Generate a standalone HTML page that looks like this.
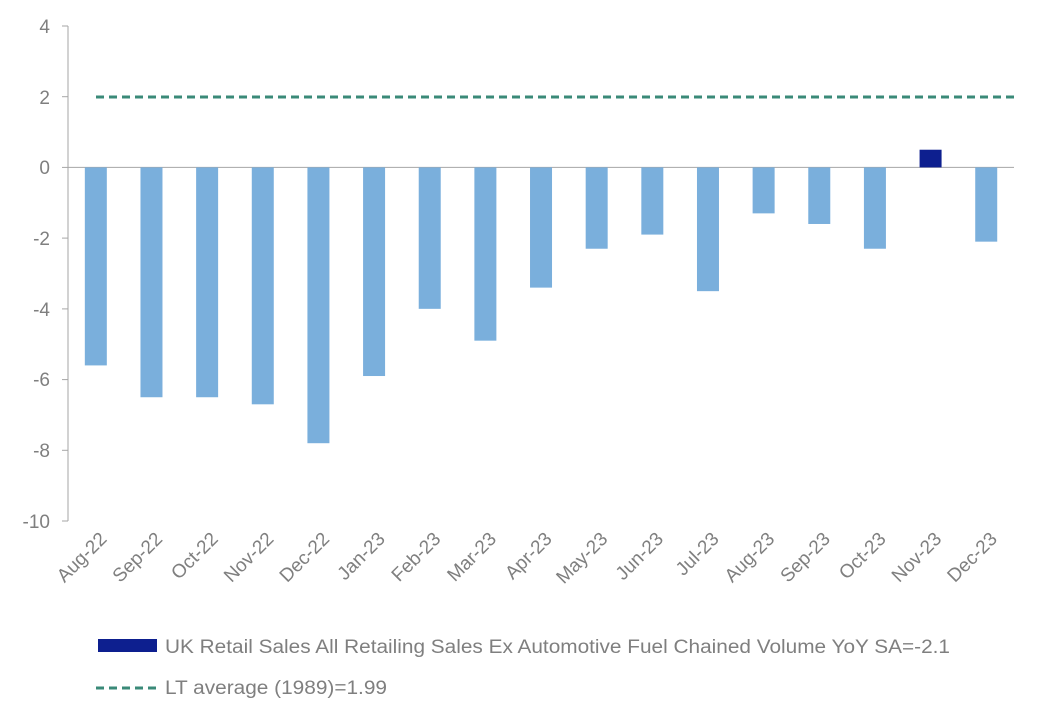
<!DOCTYPE html>
<html><head><style>body{margin:0;background:#fff}</style></head><body>
<svg width="1039" height="721" xmlns="http://www.w3.org/2000/svg" font-family="Liberation Sans, sans-serif" fill="#7f7f7f">
<g stroke="#a6a6a6" stroke-width="1">
<line x1="68" y1="26" x2="68" y2="521"/>
<line x1="62" y1="26" x2="68" y2="26"/><line x1="62" y1="96.7" x2="68" y2="96.7"/><line x1="62" y1="167.4" x2="68" y2="167.4"/><line x1="62" y1="238.1" x2="68" y2="238.1"/><line x1="62" y1="308.9" x2="68" y2="308.9"/><line x1="62" y1="379.6" x2="68" y2="379.6"/><line x1="62" y1="450.3" x2="68" y2="450.3"/><line x1="62" y1="521" x2="68" y2="521"/>
<line x1="68" y1="167.4" x2="1014" y2="167.4"/>
</g>
<g font-size="19" text-anchor="end">
<text x="50" y="33">4</text><text x="50" y="104">2</text><text x="50" y="174">0</text><text x="50" y="245">-2</text><text x="50" y="316">-4</text><text x="50" y="386">-6</text><text x="50" y="457">-8</text><text x="50" y="528">-10</text>
</g>
<g fill="#7aafdc" id="bars"></g>
<line x1="96" y1="97" x2="1014" y2="97" stroke="#3a8a78" stroke-width="3" stroke-dasharray="8,5"/>
<g id="labels" font-size="19" text-anchor="end"></g>
<rect x="98" y="639" width="59" height="13" fill="#0d1f8f"/>
<text x="165" y="653" font-size="19" textLength="785" lengthAdjust="spacingAndGlyphs">UK Retail Sales All Retailing Sales Ex Automotive Fuel Chained Volume YoY SA=-2.1</text>
<line x1="96" y1="688" x2="158" y2="688" stroke="#3a8a78" stroke-width="3" stroke-dasharray="8,5"/>
<text x="165" y="694" font-size="19" textLength="222" lengthAdjust="spacingAndGlyphs">LT average (1989)=1.99</text>
<script>
var v=[-5.6,-6.5,-6.5,-6.7,-7.8,-5.9,-4.0,-4.9,-3.4,-2.3,-1.9,-3.5,-1.3,-1.6,-2.3,0.5,-2.1];
var n=["Aug-22","Sep-22","Oct-22","Nov-22","Dec-22","Jan-23","Feb-23","Mar-23","Apr-23","May-23","Jun-23","Jul-23","Aug-23","Sep-23","Oct-23","Nov-23","Dec-23"];
var s=35.36,z=167.4,w=55.65,b=document.getElementById("bars"),l=document.getElementById("labels"),NS="http://www.w3.org/2000/svg";
for(var i=0;i<17;i++){var c=68+w*(i+0.5);var r=document.createElementNS(NS,"rect");
r.setAttribute("x",c-11);r.setAttribute("width",22);
if(v[i]<0){r.setAttribute("y",z);r.setAttribute("height",-v[i]*s);}else{r.setAttribute("y",z-v[i]*s);r.setAttribute("height",v[i]*s);r.setAttribute("fill","#0d1f8f");}
b.appendChild(r);
var t=document.createElementNS(NS,"text");t.setAttribute("transform","translate("+(c+12)+",540) rotate(-45)");t.textContent=n[i];l.appendChild(t);}
</script>
</svg>
</body></html>
